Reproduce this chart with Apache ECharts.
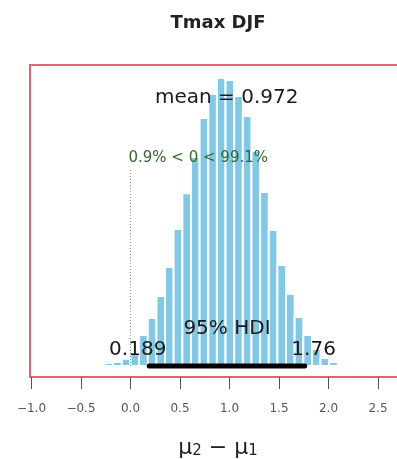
<!DOCTYPE html>
<html>
<head>
<meta charset="utf-8">
<script src="https://cdn.jsdelivr.net/npm/echarts@6/dist/echarts.min.js"></script>
<style>html,body{margin:0;padding:0;background:#fff}#c{width:397px;height:459px}</style>
</head>
<body>
<div id="c"></div>
<script>
// ---- data ----
const chartTitle = 'Tmax DJF';
const binEdges = [-0.349,-0.262,-0.175,-0.087,0.000,0.087,0.175,0.262,0.349,0.436,0.524,0.611,0.698,0.786,0.873,0.960,1.047,1.135,1.222,1.309,1.397,1.484,1.571,1.658,1.746,1.833,1.920,2.008,2.095,2.182,2.269];
const density = [0.003,0.010,0.014,0.024,0.047,0.104,0.161,0.235,0.332,0.460,0.580,0.701,0.832,0.913,0.966,0.960,0.906,0.839,0.721,0.584,0.456,0.339,0.242,0.164,0.104,0.057,0.027,0.013,0.007,0.003];
const meanValue = 0.972;
const hdi = [0.189, 1.76];
const compVal = 0;
const pctBelow = '0.9%';
const pctAbove = '99.1%';
const xTicks = [-1.0,-0.5,0.0,0.5,1.0,1.5,2.0,2.5];

// ---- build ----
const FONT = '"DejaVu Sans", sans-serif';
const cv = document.createElement('canvas').getContext('2d');
function tw(t, size){ cv.font = size + 'px "DejaVu Sans"'; return cv.measureText(t).width; }

const hist = density.map((d,i)=>[binEdges[i], binEdges[i+1], d]);
const yMin = -0.037, yMax = 1.01;
const lab = (v) => v.toFixed(1).replace('-', '\u2212');
const lo = String(hdi[0]), hi = String(hdi[1]);
const TXT = '#1a1a1a';

const chart = echarts.init(document.getElementById('c'), null, {renderer:'canvas'});
chart.setOption({
  animation:false,
  backgroundColor:'#fff',
  title:{text:chartTitle,left:218,top:14,textAlign:'center',padding:0,
    textStyle:{fontFamily:FONT,fontSize:18,fontWeight:'bold',color:'#222'}},
  grid:{left:30,right:-9,top:65,bottom:82,show:true,containLabel:false,outerBoundsMode:'none',
    borderColor:'#e4636f',borderWidth:2,backgroundColor:'transparent'},
  xAxis:{type:'value',min:-1.015,max:2.783,
    axisLine:{show:true,onZero:false,lineStyle:{color:'#e4636f',width:2}},
    axisTick:{show:true,length:12,customValues:xTicks,lineStyle:{color:'#555',width:1}},
    axisLabel:{show:true,customValues:xTicks,margin:26,formatter:lab,fontFamily:FONT,fontSize:12,color:'#555'},
    splitLine:{show:false},
    name:'{m|\u03bc}{s|2}{m| \u2212 \u03bc}{s|1}',nameLocation:'middle',nameGap:60,
    nameTextStyle:{rich:{m:{fontFamily:FONT,fontSize:22,color:'#222'},s:{fontFamily:FONT,fontSize:15,color:'#222',verticalAlign:'bottom'}}}
  },
  yAxis:{type:'value',min:yMin,max:yMax,show:false,splitLine:{show:false}},
  series:[
    {type:'custom',data:hist,z:2,
      renderItem:function(params,api){
        const a = api.coord([api.value(0), api.value(2)]);
        const b = api.coord([api.value(1), 0]);
        return {type:'rect',shape:{x:a[0],y:a[1],width:b[0]-a[0],height:b[1]-a[1]},
          style:{fill:'#80c8e8',stroke:'#fff',lineWidth:2}};
      }},
    {type:'line',data:[[compVal,0],[compVal,0.66]],symbol:'none',z:3,
      lineStyle:{color:'#7f9a72',width:1,type:[1,2]}},
    {type:'line',data:[[hdi[0],0],[hdi[1],0]],symbol:'none',z:4,
      lineStyle:{color:'#000',width:5,cap:'round'}},
    {type:'scatter',symbolSize:0,z:5,silent:true,itemStyle:{opacity:1},
      data:[
        {value:[meanValue,0.901],label:{formatter:'mean = '+meanValue,fontSize:20,color:TXT,align:'center'}},
        {value:[compVal,0.698],label:{formatter:pctBelow+' < '+compVal+' < '+pctAbove,fontSize:15,color:'#2f6a2a',align:'left',offset:[-2,0]}},
        {value:[(hdi[0]+hdi[1])/2,0.126],label:{formatter:'95% HDI',fontSize:20,color:TXT,align:'center'}},
        {value:[hdi[0],0.0554],label:{formatter:lo,fontSize:20,color:TXT,align:'center',offset:[(0.5-0.7)*tw(lo,20),0]}},
        {value:[hdi[1],0.0554],label:{formatter:hi,fontSize:20,color:TXT,align:'center',offset:[(0.5-0.3)*tw(hi,20),0]}}
      ],
      label:{show:true,position:[0,0],verticalAlign:'middle',fontFamily:FONT,opacity:1}
    }
  ]
});
</script>
</body>
</html>
